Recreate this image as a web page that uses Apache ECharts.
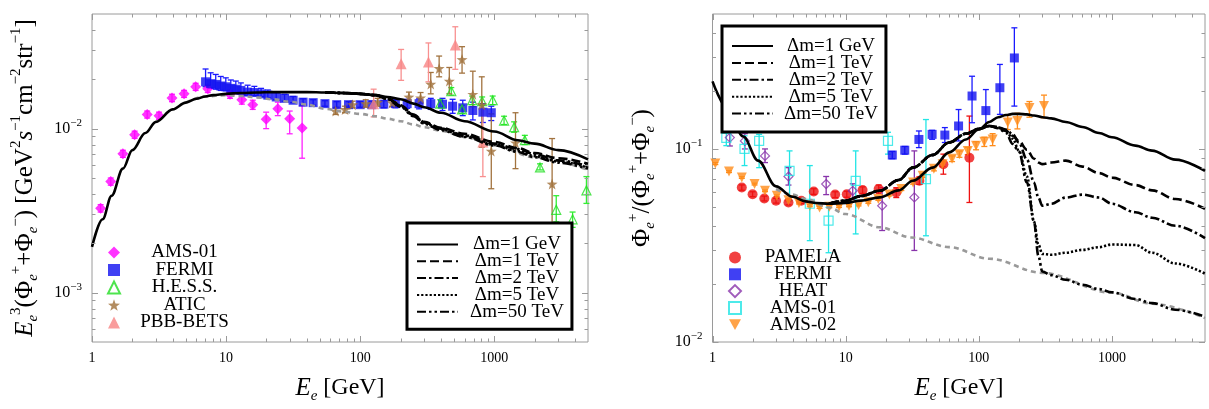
<!DOCTYPE html>
<html>
<head>
<meta charset="utf-8">
<script src="https://cdn.jsdelivr.net/npm/echarts@6/dist/echarts.min.js"></script>
<style>
  html, body { margin: 0; padding: 0; background: #fff; }
  #main { width: 1209px; height: 409px; }
</style>
</head>
<body>
<div id="main"></div>
<script>
// ---------- 左图：电子+正电子能谱 ----------
var leftCurveE = [1, 1.2, 1.4, 1.7, 2, 2.5, 3, 4, 5, 6, 7, 8, 10, 13, 17, 22, 30, 40, 55, 75, 100, 130, 160, 200, 250, 300, 400, 600, 1000, 1500, 2000, 3000, 5000];
var leftSolid = [0.0019, 0.0028, 0.0039, 0.0057, 0.0074, 0.0094, 0.0110, 0.0131, 0.0144, 0.0152, 0.0157, 0.0160, 0.0163, 0.0165, 0.0166, 0.0167, 0.0167, 0.0167, 0.0166, 0.0165, 0.0163, 0.0160, 0.0156, 0.0151, 0.0142, 0.0135, 0.0125, 0.0111, 0.0096, 0.0085, 0.0081, 0.0074, 0.0065];
var leftDmE = [55, 75, 100, 130, 160, 200, 250, 300, 400, 600, 1000, 1500, 2000, 3000, 5000];
var leftDm1TeV = [0.0166, 0.0165, 0.0163, 0.0160, 0.0153, 0.0139, 0.0122, 0.0110, 0.0101, 0.0093, 0.0083, 0.0076, 0.0071, 0.0066, 0.0061];
var leftDm2TeV = [0.0166, 0.0165, 0.0163, 0.0160, 0.0152, 0.0138, 0.0121, 0.0109, 0.0100, 0.0091, 0.0081, 0.0075, 0.0070, 0.0064, 0.0059];
var leftDm5TeV = [0.0166, 0.0165, 0.0163, 0.0160, 0.0152, 0.0137, 0.0120, 0.0108, 0.0099, 0.0090, 0.0080, 0.0073, 0.0068, 0.0063, 0.0058];
var leftDm50TeV = [0.0166, 0.0165, 0.0163, 0.0160, 0.0151, 0.0136, 0.0119, 0.0107, 0.0098, 0.0089, 0.0079, 0.0072, 0.0067, 0.0062, 0.0057];
var leftBgE = [5, 7, 10, 13, 17, 22, 30, 40, 55, 75, 100, 130, 160, 200, 250, 300, 400, 600, 1000, 2000, 5000];
var leftBg = [0.0144, 0.0157, 0.0160, 0.0158, 0.0155, 0.0151, 0.0146, 0.0140, 0.0132, 0.0127, 0.0123, 0.0119, 0.0115, 0.0111, 0.0106, 0.0102, 0.0097, 0.0089, 0.0079, 0.0067, 0.0056];

var ams01LE = [1.16, 1.38, 1.70, 2.08, 2.58, 3.16, 3.95, 4.86, 5.93, 7.3, 10.7, 13.1, 15.8, 19.9, 24.3, 29.8, 36.9];
var ams01LY = [0.00327, 0.00476, 0.00703, 0.00919, 0.0122, 0.0120, 0.0154, 0.0163, 0.0180, 0.0175, 0.0162, 0.0150, 0.0140, 0.0114, 0.0132, 0.0115, 0.0101];
var ams01LLo = [0.00310, 0.00452, 0.00668, 0.00873, 0.0116, 0.0114, 0.0146, 0.0155, 0.0171, 0.0166, 0.0153, 0.0141, 0.0131, 0.0100, 0.0120, 0.0093, 0.0066];
var ams01LHi = [0.00344, 0.00500, 0.00738, 0.00965, 0.0128, 0.0126, 0.0162, 0.0171, 0.0189, 0.0184, 0.0171, 0.0159, 0.0149, 0.0126, 0.0145, 0.0128, 0.0138];

var fermiLE = [7.03, 7.67, 8.37, 9.12, 9.95, 10.84, 11.82, 12.89, 14.48, 16.25, 18.24, 20.48, 23.64, 27.3, 31.6, 37.5, 44.6, 54.6, 66.8, 81.8, 100, 122, 150, 183, 224, 275, 336, 411, 489, 582, 692, 822, 950];
var fermiLY = [0.0193, 0.0188, 0.0186, 0.0182, 0.0180, 0.0176, 0.0174, 0.0171, 0.0167, 0.0166, 0.0163, 0.0160, 0.0156, 0.0153, 0.0149, 0.0145, 0.0144, 0.0142, 0.0140, 0.0140, 0.0140, 0.0140, 0.0141, 0.0142, 0.0142, 0.0142, 0.0142, 0.0141, 0.0137, 0.0134, 0.0129, 0.0126, 0.0125];
var fermiLLo = [0.0180, 0.0176, 0.0174, 0.0171, 0.0170, 0.0167, 0.0165, 0.0163, 0.0160, 0.0159, 0.0157, 0.0154, 0.0150, 0.0147, 0.0144, 0.0140, 0.0139, 0.0137, 0.0135, 0.0135, 0.0135, 0.0134, 0.0134, 0.0134, 0.0133, 0.0132, 0.0131, 0.0129, 0.0124, 0.0120, 0.0113, 0.0109, 0.0112];
var fermiLHi = [0.0231, 0.0219, 0.0214, 0.0208, 0.0204, 0.0198, 0.0195, 0.0190, 0.0184, 0.0181, 0.0176, 0.0172, 0.0166, 0.0162, 0.0157, 0.0152, 0.0150, 0.0148, 0.0146, 0.0146, 0.0146, 0.0147, 0.0148, 0.0150, 0.0151, 0.0152, 0.0153, 0.0153, 0.0151, 0.0149, 0.0145, 0.0142, 0.0137];

var hessE = [395, 478, 575, 684, 812, 973, 1183, 1406, 1690, 2193, 2898, 3838, 4867];
var hessY = [0.0142, 0.0169, 0.0131, 0.0149, 0.0147, 0.0149, 0.0112, 0.0102, 0.0085, 0.0058, 0.0032, 0.0028, 0.0042];
var hessLo = [0.0135, 0.0160, 0.0124, 0.0140, 0.0139, 0.0140, 0.0106, 0.0095, 0.0080, 0.0056, 0.0027, 0.0025, 0.0035];
var hessHi = [0.0150, 0.0178, 0.0139, 0.0158, 0.0156, 0.0158, 0.0119, 0.0110, 0.0091, 0.0061, 0.0039, 0.0031, 0.0051];

var aticE = [65.6, 77.1, 87.7, 110, 135, 173, 231, 282, 336, 388, 462, 575, 692, 807, 950, 1440, 2700];
var aticY = [0.0128, 0.0131, 0.0140, 0.0142, 0.0145, 0.0144, 0.0156, 0.0154, 0.0187, 0.0233, 0.0195, 0.0264, 0.0162, 0.0140, 0.0073, 0.0082, 0.0046];
var aticLo = [0.0122, 0.0125, 0.0134, 0.0135, 0.0137, 0.0136, 0.0146, 0.0143, 0.0163, 0.0207, 0.0163, 0.0218, 0.0136, 0.0077, 0.0043, 0.0057, 0.0025];
var aticHi = [0.0134, 0.0137, 0.0147, 0.0150, 0.0153, 0.0152, 0.0167, 0.0166, 0.0220, 0.0277, 0.0236, 0.0316, 0.0224, 0.0207, 0.0123, 0.0125, 0.0087];

var pbbE = [126, 202, 323, 512, 822];
var pbbY = [0.0142, 0.0249, 0.0255, 0.0323, 0.0083];
var pbbLo = [0.0118, 0.0197, 0.0193, 0.0230, 0.0051];
var pbbHi = [0.0174, 0.0304, 0.0333, 0.0418, 0.0132];

// ---------- 右图：正电子比例 ----------
var rightSolidE = [1, 1.3, 1.7, 2.2, 3, 4, 5, 6, 7.5, 10, 13, 18, 25, 32, 45, 60, 80, 100, 120, 140, 160, 180, 200, 230, 260, 300, 350, 450, 600, 800, 1000, 1500, 2000, 3000, 5000];
var rightSolid = [0.224, 0.162, 0.116, 0.087, 0.064, 0.0565, 0.0535, 0.0525, 0.052, 0.0525, 0.054, 0.0561, 0.061, 0.0684, 0.080, 0.096, 0.112, 0.126, 0.138, 0.146, 0.150, 0.152, 0.152, 0.151, 0.149, 0.146, 0.144, 0.138, 0.130, 0.121, 0.115, 0.104, 0.098, 0.088, 0.077];
var rightDmE = [7.5, 10, 13, 18, 25, 32, 45, 60, 80, 100, 120, 140, 160, 180, 200, 230, 260, 280, 300, 350, 450, 600, 800, 1000, 1500, 2000, 3000, 5000];
var rightDm1TeV = [0.052, 0.054, 0.057, 0.0607, 0.069, 0.080, 0.093, 0.108, 0.120, 0.127, 0.1315, 0.130, 0.124, 0.117, 0.110, 0.099, 0.089, 0.085, 0.0834, 0.085, 0.087, 0.081, 0.075, 0.071, 0.065, 0.061, 0.055, 0.049];
var rightDm2TeV = [0.052, 0.054, 0.057, 0.0607, 0.069, 0.080, 0.093, 0.108, 0.120, 0.127, 0.1315, 0.129, 0.126, 0.119, 0.108, 0.088, 0.067, 0.056, 0.0508, 0.052, 0.056, 0.058, 0.056, 0.052, 0.047, 0.044, 0.040, 0.0345];
var rightDm5TeV = [0.052, 0.054, 0.057, 0.0607, 0.069, 0.080, 0.093, 0.108, 0.120, 0.127, 0.1315, 0.129, 0.124, 0.113, 0.098, 0.072, 0.042, 0.032, 0.0286, 0.0283, 0.029, 0.030, 0.031, 0.032, 0.0318, 0.029, 0.0255, 0.0226];
var rightDm50TeV = [0.052, 0.054, 0.057, 0.0607, 0.069, 0.080, 0.093, 0.108, 0.120, 0.127, 0.1315, 0.128, 0.121, 0.106, 0.097, 0.067, 0.042, 0.028, 0.0232, 0.0222, 0.0210, 0.0198, 0.0188, 0.0181, 0.0167, 0.0159, 0.0147, 0.0135];
var rightBgE = [3, 4, 5, 7.5, 10, 18, 31, 60, 120, 300, 1000, 2000, 5000];
var rightBg = [0.062, 0.058, 0.055, 0.0497, 0.046, 0.0393, 0.0348, 0.031, 0.027, 0.0228, 0.0180, 0.0158, 0.0133];

var pamelaE = [1.66, 2.0, 2.45, 3.0, 3.72, 4.64, 5.76, 8.34, 10.2, 13.4, 17.7, 24, 35.8, 54.2, 85];
var pamelaY = [0.0631, 0.0583, 0.0554, 0.0539, 0.0528, 0.0539, 0.0602, 0.058, 0.0583, 0.0612, 0.062, 0.0595, 0.0684, 0.0834, 0.090];
var pamelaLo = [0.0611, 0.0566, 0.0538, 0.0524, 0.0513, 0.0522, 0.0582, 0.0560, 0.0562, 0.0588, 0.0590, 0.0560, 0.0655, 0.074, 0.0528];
var pamelaHi = [0.0651, 0.0600, 0.0570, 0.0554, 0.0543, 0.0556, 0.0622, 0.0600, 0.0604, 0.0636, 0.0650, 0.0630, 0.0715, 0.094, 0.148];

var fermiRE = [22.4, 27.8, 35.5, 44.6, 55.6, 70.5, 89, 113, 144, 185];
var fermiRY = [0.093, 0.0985, 0.112, 0.119, 0.118, 0.1315, 0.188, 0.158, 0.2075, 0.296];
var fermiRLo = [0.089, 0.094, 0.1016, 0.1122, 0.108, 0.110, 0.1367, 0.1315, 0.151, 0.1667];
var fermiRHi = [0.097, 0.103, 0.1239, 0.1249, 0.129, 0.160, 0.238, 0.203, 0.274, 0.424];

var heatE = [1.35, 1.75, 2.48, 3.72, 7.14, 11.3, 18.8, 32.8];
var heatY = [0.1145, 0.110, 0.092, 0.072, 0.0658, 0.0607, 0.0508, 0.0561];
var heatLo = [0.1036, 0.100, 0.085, 0.065, 0.058, 0.055, 0.0378, 0.0298];
var heatHi = [0.124, 0.120, 0.100, 0.080, 0.072, 0.066, 0.0631, 0.0977];

var ams01RE = [1.27, 1.74, 2.24, 3.79, 5.38, 7.44, 11.9, 20.8, 40.1];
var ams01RY = [0.114, 0.100, 0.110, 0.0769, 0.052, 0.0425, 0.0684, 0.110, 0.0698];
var ams01RLo = [0.104, 0.082, 0.080, 0.054, 0.0335, 0.0290, 0.0363, 0.094, 0.0355];
var ams01RHi = [0.125, 0.117, 0.119, 0.0977, 0.082, 0.0498, 0.0977, 0.122, 0.142];

var ams02E = [1.05, 1.33, 1.66, 2.07, 2.48, 3.04, 3.72, 4.46, 5.38, 6.37, 7.54, 8.92, 10.6, 12.5, 14.8, 17.6, 21.3, 26.2, 32.1, 37.9, 46, 53.5, 63, 71.5, 82.6, 95.4, 110, 127, 165, 195, 240, 309];
var ams02Y = [0.084, 0.0763, 0.0711, 0.0658, 0.0607, 0.0572, 0.0543, 0.0525, 0.0508, 0.0498, 0.0502, 0.0504, 0.0508, 0.0513, 0.0530, 0.0550, 0.058, 0.062, 0.067, 0.0726, 0.079, 0.0834, 0.089, 0.094, 0.0977, 0.104, 0.109, 0.112, 0.137, 0.1395, 0.163, 0.1667];
var ams02Lo = [0.083, 0.0755, 0.0704, 0.0651, 0.0601, 0.0566, 0.0537, 0.0519, 0.0502, 0.0492, 0.0496, 0.0498, 0.0502, 0.0507, 0.0523, 0.0542, 0.0571, 0.0609, 0.0657, 0.0711, 0.0770, 0.0810, 0.0860, 0.0905, 0.0935, 0.099, 0.103, 0.104, 0.126, 0.127, 0.146, 0.145];
var ams02Hi = [0.085, 0.0771, 0.0718, 0.0665, 0.0613, 0.0578, 0.0549, 0.0531, 0.0514, 0.0504, 0.0508, 0.0510, 0.0514, 0.0519, 0.0537, 0.0558, 0.0589, 0.0631, 0.0683, 0.0741, 0.0810, 0.0858, 0.0920, 0.0975, 0.1020, 0.109, 0.115, 0.120, 0.149, 0.153, 0.176, 0.190];

// 刻度
var xMajorTicks = [1, 10, 100, 1000];
var xMinorTicks = [2, 3, 4, 5, 6, 7, 8, 9, 20, 30, 40, 50, 60, 70, 80, 90, 200, 300, 400, 500, 600, 700, 800, 900, 2000, 3000, 4000];
var yLeftMajorTicks = [0.001, 0.01];
var yLeftMinorTicks = [0.0006, 0.0007, 0.0008, 0.0009, 0.002, 0.003, 0.004, 0.005, 0.006, 0.007, 0.008, 0.009, 0.02, 0.03, 0.04];
var yRightMajorTicks = [0.01, 0.1];
var yRightMinorTicks = [0.02, 0.03, 0.04, 0.05, 0.06, 0.07, 0.08, 0.09, 0.2, 0.3, 0.4];

var SERIF = "'Liberation Serif', 'DejaVu Serif', serif";
var STAR = 'path://M0,-10 L2.35,-3.24 L9.51,-3.09 L3.8,1.24 L5.88,8.09 L0,4 L-5.88,8.09 L-3.8,1.24 L-9.51,-3.09 L-2.35,-3.24 Z';
var DOWN_TRI = 'path://M0,0 L10,0 L5,9 Z';

function pairs(xs, ys) { return xs.map(function (x, i) { return [x, ys[i]]; }); }
function triples(xs, lo, hi) { return xs.map(function (x, i) { return [x, lo[i], hi[i]]; }); }

function curve(name, gi, xs, ys, dash, color, width, z) {
    return {
        type: 'line', name: name, xAxisIndex: gi, yAxisIndex: gi,
        data: pairs(xs, ys), showSymbol: false, symbol: 'none',
        smooth: 0.35, smoothMonotone: 'x', z: z || 5, silent: true,
        lineStyle: { color: color || '#000', width: width || 2.6, type: dash || 'solid' },
        itemStyle: { color: color || '#000' }
    };
}

function points(name, gi, xs, ys, symbol, size, color, open) {
    return {
        type: 'scatter', name: name, xAxisIndex: gi, yAxisIndex: gi,
        data: pairs(xs, ys), symbol: symbol, symbolSize: size, z: 3, silent: true,
        itemStyle: open ? { color: 'rgba(255,255,255,0)', borderColor: color, borderWidth: 1.2 }
                        : { color: color }
    };
}

function errorBars(gi, xs, lo, hi, color) {
    return {
        type: 'custom', xAxisIndex: gi, yAxisIndex: gi, z: 2, silent: true,
        encode: { x: 0, y: [1, 2] },
        data: triples(xs, lo, hi),
        renderItem: function (params, api) {
            var x = api.value(0);
            var a = api.coord([x, api.value(1)]);
            var b = api.coord([x, api.value(2)]);
            var cap = 3;
            var st = { stroke: color, lineWidth: 1.3 };
            return {
                type: 'group', children: [
                    { type: 'line', shape: { x1: a[0], y1: a[1], x2: b[0], y2: b[1] }, style: st },
                    { type: 'line', shape: { x1: a[0] - cap, y1: a[1], x2: a[0] + cap, y2: a[1] }, style: st },
                    { type: 'line', shape: { x1: b[0] - cap, y1: b[1], x2: b[0] + cap, y2: b[1] }, style: st }
                ]
            };
        }
    };
}

// 边框刻度（四边朝内）
function ticks(gi, dim, values, len) {
    var ref = gi === 0 ? 0.01 : 0.1;
    return {
        type: 'custom', xAxisIndex: gi, yAxisIndex: gi, z: 6, silent: true,
        data: values.map(function (v) { return dim === 'x' ? [v, ref] : [10, v]; }),
        renderItem: function (params, api) {
            var cs = params.coordSys;
            var p = api.coord([api.value(0), api.value(1)]);
            var st = { stroke: '#9a9a9a', lineWidth: 1 };
            if (dim === 'x') {
                var px = Math.round(p[0]) + 0.5;
                return { type: 'group', children: [
                    { type: 'line', shape: { x1: px, y1: cs.y + cs.height, x2: px, y2: cs.y + cs.height - len }, style: st },
                    { type: 'line', shape: { x1: px, y1: cs.y, x2: px, y2: cs.y + len }, style: st }
                ] };
            }
            var py = Math.round(p[1]) + 0.5;
            return { type: 'group', children: [
                { type: 'line', shape: { x1: cs.x, y1: py, x2: cs.x + len, y2: py }, style: st },
                { type: 'line', shape: { x1: cs.x + cs.width, y1: py, x2: cs.x + cs.width - len, y2: py }, style: st }
            ] };
        }
    };
}

function isDecade(v) {
    var e = Math.log10(v);
    return Math.abs(e - Math.round(e)) < 1e-6;
}

function xAxisCfg(gi) {
    return {
        gridIndex: gi, type: 'log', logBase: 10, min: 1, max: 5000,
        axisLine: { show: false }, axisTick: { show: false }, splitLine: { show: false },
        axisLabel: {
            margin: 9, color: '#000', fontFamily: SERIF, fontSize: 14,
            formatter: function (v) { return isDecade(v) ? String(Math.round(v)) : ''; }
        }
    };
}

function yAxisCfg(gi, min, max) {
    return {
        gridIndex: gi, type: 'log', logBase: 10, min: min, max: max,
        axisLine: { show: false }, axisTick: { show: false }, splitLine: { show: false },
        axisLabel: {
            margin: 10, color: '#000', fontFamily: SERIF,
            formatter: function (v) {
                if (!isDecade(v)) return '';
                return '{b|10}{s|\u2212' + Math.abs(Math.round(Math.log10(v))) + '}';
            },
            rich: {
                b: { fontSize: 16, lineHeight: 22, fontFamily: SERIF, color: '#000' },
                s: { fontSize: 11, lineHeight: 12, verticalAlign: 'top', fontFamily: SERIF, color: '#000' }
            }
        }
    };
}

var richTitle = {
    i: { fontStyle: 'italic', fontSize: 25, fontFamily: SERIF, lineHeight: 32 },
    sub: { fontSize: 15, fontFamily: SERIF, lineHeight: 14, verticalAlign: 'bottom' },
    isub: { fontSize: 15, fontStyle: 'italic', fontFamily: SERIF, lineHeight: 14, verticalAlign: 'bottom' },
    sup: { fontSize: 15, fontFamily: SERIF, lineHeight: 15, verticalAlign: 'top' }
};

function legendText(width) {
    return {
        formatter: function (name) { return '{c|' + name.trim() + '}'; },
        textStyle: {
            fontSize: 19,
            rich: { c: { width: width, align: 'center', fontSize: 19, fontFamily: SERIF, color: '#000' } }
        }
    };
}

var lineNames = ['Δm=1 GeV', 'Δm=1 TeV', 'Δm=2 TeV', 'Δm=5 TeV', 'Δm=50 TeV'];
var DASH = [9, 4];
var DASHDOT = [9, 3, 2.5, 3];
var DOT = [2.2, 2];
var DASHDOTDOT = [9, 3, 2.5, 3, 2.5, 3];

var myChart = echarts.init(document.getElementById('main'));

var option = {
    animation: false,
    backgroundColor: '#fff',
    textStyle: { fontFamily: SERIF },
    grid: [
        { left: 92, top: 14, width: 496, height: 328, show: true, borderColor: '#9a9a9a', borderWidth: 1, backgroundColor: 'transparent' },
        { left: 712.5, top: 14, width: 492.5, height: 328, show: true, borderColor: '#9a9a9a', borderWidth: 1, backgroundColor: 'transparent' }
    ],
    xAxis: [xAxisCfg(0), xAxisCfg(1)],
    yAxis: [yAxisCfg(0, 0.0005, 0.05), yAxisCfg(1, 0.01, 0.5)],
    legend: [
        Object.assign({
            data: lineNames, orient: 'vertical', left: 407, top: 223, z: 10,
            itemWidth: 41, itemHeight: 14, itemGap: -2.2, padding: [12, 8, 8, 9],
            backgroundColor: '#fff', borderColor: '#000', borderWidth: 3, borderRadius: 0,
            itemStyle: { opacity: 0 }, selectedMode: false
        }, legendText(108)),
        Object.assign({
            data: ['AMS-01', 'FERMI', 'H.E.S.S.', 'ATIC', 'PBB-BETS'], orient: 'vertical', left: 107, top: 243, z: 10,
            itemWidth: 12, itemHeight: 12, itemGap: -1.5, padding: 0, selectedMode: false
        }, legendText(119)),
        Object.assign({
            data: lineNames, orient: 'vertical', left: 722, top: 26, z: 10,
            itemWidth: 41, itemHeight: 14, itemGap: -2.1, padding: [10.5, 8, 9, 9],
            backgroundColor: '#fff', borderColor: '#000', borderWidth: 3, borderRadius: 0,
            itemStyle: { opacity: 0 }, selectedMode: false
        }, legendText(106)),
        Object.assign({
            data: ['PAMELA', 'FERMI', 'HEAT', 'AMS-01 ', 'AMS-02'], orient: 'vertical', left: 728, top: 248, z: 10,
            itemWidth: 12, itemHeight: 12, itemGap: -2.2, padding: 0, selectedMode: false
        }, legendText(114))
    ],
    graphic: [
        {
            type: 'text', x: 25, y: 178, rotation: Math.PI / 2,
            style: {
                text: '{i|E}{isub|e}{sup|3}(Φ{isub|e}{sup|+}+Φ{isub|e}{sup|−}) [GeV{sup|2}{i|s}{sup|−1}cm{sup|−2}str{sup|−1}]',
                rich: richTitle, fontSize: 25, fontFamily: SERIF, lineHeight: 32,
                fill: '#000', align: 'center', verticalAlign: 'middle'
            }
        },
        {
            type: 'text', x: 642, y: 178, rotation: Math.PI / 2,
            style: {
                text: 'Φ{isub|e}{sup|+}/(Φ{isub|e}{sup|+}+Φ{isub|e}{sup|−})',
                rich: richTitle, fontSize: 25, fontFamily: SERIF, lineHeight: 32,
                fill: '#000', align: 'center', verticalAlign: 'middle'
            }
        },
        {
            type: 'text', x: 340, y: 388,
            style: {
                text: '{i|E}{isub|e} [GeV]', rich: richTitle, fontSize: 24, fontFamily: SERIF, lineHeight: 32,
                fill: '#000', align: 'center', verticalAlign: 'middle'
            }
        },
        {
            type: 'text', x: 959, y: 388,
            style: {
                text: '{i|E}{isub|e} [GeV]', rich: richTitle, fontSize: 24, fontFamily: SERIF, lineHeight: 32,
                fill: '#000', align: 'center', verticalAlign: 'middle'
            }
        }
    ],
    series: [
        // 左图数据
        errorBars(0, ams01LE, ams01LLo, ams01LHi, '#ff22ff'),
        errorBars(0, fermiLE, fermiLLo, fermiLHi, '#1a1aff'),
        errorBars(0, hessE, hessLo, hessHi, '#33ee33'),
        errorBars(0, aticE, aticLo, aticHi, '#a2733f'),
        errorBars(0, pbbE, pbbLo, pbbHi, '#f89090'),
        points('AMS-01', 0, ams01LE, ams01LY, 'diamond', 11, '#ff00ff'),
        points('FERMI', 0, fermiLE, fermiLY, 'rect', 9, '#1010f0'),
        points('H.E.S.S.', 0, hessE, hessY, 'triangle', 9, '#22dd22', true),
        points('ATIC', 0, aticE, aticY, STAR, 11, '#a0703a'),
        points('PBB-BETS', 0, pbbE, pbbY, 'triangle', 11, '#f78585'),
        curve('bgL', 0, leftBgE, leftBg, [5, 4], '#999', 2.6, 4),
        curve('Δm=50 TeV', 0, leftDmE, leftDm50TeV, DASHDOTDOT),
        curve('Δm=5 TeV', 0, leftDmE, leftDm5TeV, DOT),
        curve('Δm=2 TeV', 0, leftDmE, leftDm2TeV, DASHDOT),
        curve('Δm=1 TeV', 0, leftDmE, leftDm1TeV, DASH),
        curve('Δm=1 GeV', 0, leftCurveE, leftSolid, 'solid'),
        // 右图数据
        errorBars(1, ams02E, ams02Lo, ams02Hi, '#ff8c1a'),
        errorBars(1, pamelaE, pamelaLo, pamelaHi, '#ee1111'),
        errorBars(1, fermiRE, fermiRLo, fermiRHi, '#1a1aff'),
        errorBars(1, heatE, heatLo, heatHi, '#8833aa'),
        errorBars(1, ams01RE, ams01RLo, ams01RHi, '#22e5e5'),
        points('PAMELA', 1, pamelaE, pamelaY, 'circle', 10, '#ee1111'),
        points('AMS-02', 1, ams02E, ams02Y, DOWN_TRI, 10, '#ff8c1a'),
        points('FERMI', 1, fermiRE, fermiRY, 'rect', 9, '#1010f0'),
        points('HEAT', 1, heatE, heatY, 'diamond', 9, '#8833aa', true),
        points('AMS-01 ', 1, ams01RE, ams01RY, 'rect', 9, '#22e5e5', true),
        curve('bgR', 1, rightBgE, rightBg, [5, 4], '#999', 2.6, 4),
        curve('Δm=50 TeV', 1, rightDmE, rightDm50TeV, DASHDOTDOT),
        curve('Δm=5 TeV', 1, rightDmE, rightDm5TeV, DOT),
        curve('Δm=2 TeV', 1, rightDmE, rightDm2TeV, DASHDOT),
        curve('Δm=1 TeV', 1, rightDmE, rightDm1TeV, DASH),
        curve('Δm=1 GeV', 1, rightSolidE, rightSolid, 'solid'),
        // 刻度
        ticks(0, 'x', xMajorTicks, 6), ticks(0, 'x', xMinorTicks, 3.5),
        ticks(0, 'y', yLeftMajorTicks, 6), ticks(0, 'y', yLeftMinorTicks, 3.5),
        ticks(1, 'x', xMajorTicks, 6), ticks(1, 'x', xMinorTicks, 3.5),
        ticks(1, 'y', yRightMajorTicks, 6), ticks(1, 'y', yRightMinorTicks, 3.5)
    ]
};

myChart.setOption(option);
window.addEventListener('resize', function () {
    myChart.resize();
});
</script>
</body>
</html>
